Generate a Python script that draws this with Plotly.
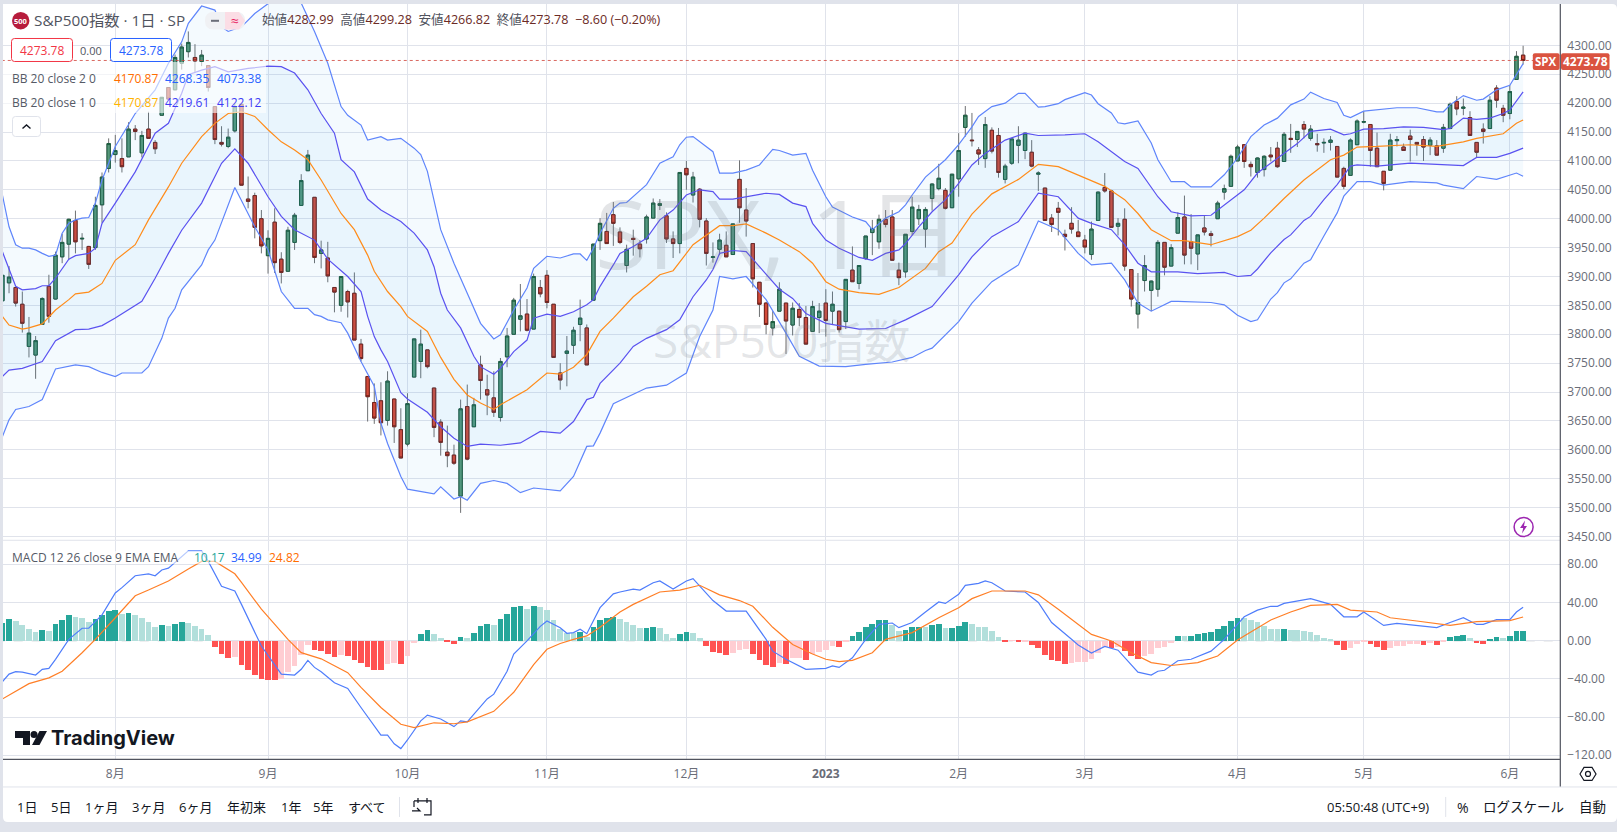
# S&P500 daily chart with bollinger bands and a MACD pane
import plotly.graph_objects as go

W, H = 1617, 832
FONT = "Open Sans, Noto Sans CJK JP"

## values
open_vals = [3858,3889,3881,3852,3779,3764,3817,3883,3861,3934,3956,3997,3965,3952,3950,4024,4087,4111,4104,4107,
    4155,4114,4155,4132,4179,4227,4223,4269,4289,4279,4272,4265,4194,4132,4125,4152,4198,4034,4040,4000,
    3936,3994,3930,3909,3959,4023,4083,4037,3940,3932,3881,3850,3874,3871,3783,3727,3682,3685,3651,3688,
    3635,3610,3726,3753,3773,3707,3648,3596,3591,3520,3675,3640,3747,3704,3690,3656,3761,3800,3826,3835,
    3809,3881,3902,3852,3733,3767,3781,3817,3811,3859,3962,3978,4007,3977,3919,3966,3956,3965,4001,4023,
    4005,3965,3957,4087,4041,4051,3996,3933,3947,3954,3938,4068,4015,3957,3890,3854,3811,3840,3854,3816,
    3843,3829,3805,3829,3854,3840,3840,3822,3911,3888,3931,3976,3960,3999,4003,3911,3908,3978,4000,3982,
    4035,4052,4049,4019,4069,4158,4136,4119,4104,4153,4144,4068,4096,4127,4118,4115,4077,4053,4001,4018,
    3973,3992,3977,3963,3938,3997,4054,4048,3987,3999,3912,3835,3893,3876,3878,3959,3918,3975,4003,3960,
    3939,3984,3974,4000,4046,4056,4100,4128,4094,4080,4085,4110,4122,4099,4139,4137,4163,4139,4130,4131,
    4132,4125,4087,4075,4128,4167,4163,4122,4082,4084,4135,4124,4143,4132,4137,4127,4126,4122,4156,4203,
    4191,4175,4132,4155,4156,4226,4191,4182,4241,4282.99]
high_vals = [3911,3918,3881,3874,3830,3797,3864,3903,3943,3974,4000,4014,3975,3953,4038,4080,4139,4145,4139,4167,
    4162,4152,4185,4136,4210,4227,4284,4303,4324,4302,4292,4265,4194,4160,4156,4200,4198,4073,4045,4015,
    3980,4018,3942,3986,4010,4077,4119,4037,3962,3960,3881,3900,3877,3907,3792,3727,3715,3717,3736,3688,
    3672,3698,3792,3808,3773,3707,3653,3642,3609,3687,3713,3690,3763,3730,3736,3759,3811,3863,3887,3861,
    3905,3894,3911,3852,3750,3797,3813,3860,3817,3956,4001,4010,4029,3985,3955,3981,3963,4007,4035,4034,
    4011,3978,4080,4100,4081,4053,4001,3959,3974,3978,3991,4101,4053,3957,3890,3856,3840,3890,3854,3855,
    3854,3849,3858,3854,3878,3874,3840,3895,3952,3919,3970,3998,4007,4015,4015,3924,3973,4038,4024,4020,
    4061,4095,4053,4077,4148,4195,4183,4124,4176,4158,4157,4095,4139,4160,4148,4136,4082,4053,4008,4029,
    3981,4020,3998,3972,3995,4047,4079,4050,4001,4018,3912,3906,3937,3893,3963,3959,3956,4011,4040,4008,
    3972,4005,3979,4031,4059,4111,4128,4128,4099,4106,4110,4124,4133,4150,4164,4151,4169,4162,4147,4139,
    4143,4125,4090,4139,4172,4186,4163,4149,4082,4147,4143,4130,4154,4132,4143,4141,4136,4164,4201,4212,
    4208,4186,4132,4165,4212,4231,4197,4231,4290,4299.28]
low_vals = [3858,3871,3848,3803,3760,3723,3817,3820,3860,3923,3929,3940,3946,3913,3946,3993,4080,4097,4080,4107,
    4136,4106,4139,4112,4179,4207,4223,4258,4279,4254,4264,4220,4129,4125,4122,4149,4058,4018,3966,3940,
    3905,3906,3888,3909,3946,4023,4083,3923,3914,3890,3838,3839,3829,3790,3753,3649,3645,3625,3642,3612,
    3586,3606,3726,3724,3741,3622,3590,3570,3574,3491,3582,3640,3687,3660,3657,3649,3743,3800,3805,3805,
    3809,3864,3845,3760,3704,3710,3766,3788,3747,3859,3946,3957,3953,3956,3907,3936,3933,3957,4001,4015,
    3958,3932,3940,4050,4028,3985,3919,3924,3937,3934,3938,3993,3969,3881,3830,3800,3798,3840,3766,3798,
    3814,3783,3805,3802,3796,3816,3803,3809,3891,3878,3929,3937,3948,3985,3928,3885,3898,3972,3989,3950,
    4014,4049,4016,4019,4038,4142,4125,4093,4088,4113,4071,4061,4093,4096,4103,4089,4048,3997,3977,3971,
    3945,3974,3969,3940,3929,3997,4045,3985,3971,3910,3848,3810,3874,3840,3865,3902,3918,3975,3921,3921,
    3911,3971,3952,4000,4033,4056,4100,4088,4073,4071,4073,4099,4088,4099,4114,4124,4139,4135,4116,4114,
    4118,4072,4051,4075,4128,4165,4090,4090,4049,4084,4125,4118,4099,4109,4100,4110,4110,4114,4155,4179,
    4179,4144,4106,4130,4156,4192,4167,4172,4241,4266.82]
close_vals = [3902,3899,3854,3819,3802,3789,3862,3831,3937,3959,3999,3960,3966,3921,4023,4072,4130,4118,4090,4155,
    4151,4144,4139,4121,4210,4207,4279,4297,4305,4273,4283,4227,4137,4129,4141,4194,4058,4030,3985,3953,
    3966,3924,3907,3980,4006,4066,4110,3933,3946,3901,3873,3900,3856,3790,3758,3692,3655,3647,3719,3640,
    3586,3680,3792,3783,3744,3639,3613,3590,3577,3671,3584,3678,3720,3695,3665,3753,3797,3859,3832,3807,
    3900,3870,3855,3760,3721,3771,3807,3828,3747,3956,3992,3957,3992,3959,3947,3964,3948,4003,4027,4026,
    3965,3957,4080,4076,4072,3999,3940,3934,3963,3934,3991,4019,3996,3896,3852,3817,3822,3878,3823,3845,
    3829,3783,3848,3840,3824,3852,3808,3895,3891,3919,3970,3983,3999,3990,3928,3898,3973,4020,4016,4016,
    4060,4070,4018,4077,4118,4179,4135,4112,4163,4117,4080,4091,4138,4136,4148,4091,4079,3997,3990,4011,
    3969,3982,3969,3951,3982,4046,4048,3985,3992,3918,3861,3855,3919,3892,3959,3916,3950,4002,3937,3949,
    3972,3977,3971,4027,4052,4108,4124,4099,4090,4105,4108,4107,4090,4146,4137,4151,4155,4155,4128,4132,
    4136,4072,4056,4136,4169,4168,4118,4090,4061,4136,4137,4118,4137,4129,4124,4136,4110,4158,4198,4190,
    4193,4144,4115,4151,4205,4205,4179,4220,4281,4273.78]

# bollinger lines, each with the bars it was read at
up2_idx = [0,1,2,3,4,5,6,7,8,9,10,11,12,13,14,15,17,20,23,25,27,28,30,32,33,34,36,38,40,42,44,45,47,49,51,52,54,55,57,58,60,
    62,63,64,66,68,70,72,74,75,77,79,80,82,84,86,87,88,89,90,92,93,94,97,99,101,102,103,104,107,108,110,112,114,116,117,
    119,121,122,124,125,128,130,131,133,135,136,137,139,141,142,144,146,147,149,151,153,154,156,157,159,160,163,164,165,
    167,168,169,171,173,174,176,178,179,182,184,186,188,190,192,194,196,197,199,201,202,203,205,208,210,213,216,217,218,
    220,222,223,225,227,228,229]
up2_vals = [4041,3986,3955,3949,3949,3946,3940,3935,3937,3975,3992,3998,4001,4002,4027,4067,4125,4182,4223,4269,4306,4338,4368,4361,4332,4324,4332,4355,4372,4387,4390,4373,4324,4269,4194,4179,4162,4136,4142,4136,4139,
    4122,4111,4082,3981,3923,3871,3819,3792,3799,3842,3880,3914,3935,3932,3939,3939,3928,3949,3975,4018,4027,4028,4059,4096,4107,4128,4141,4142,4116,4079,4079,4084,4093,4120,4118,
    4110,4113,4084,4038,4020,4003,3995,3981,4001,4012,4024,4041,4072,4093,4102,4128,4159,4177,4194,4200,4217,4217,4193,4194,4199,4206,4218,4214,4199,
    4183,4166,4164,4169,4131,4102,4064,4064,4055,4055,4076,4105,4142,4162,4174,4197,4207,4219,4208,4201,4179,4175,4186,4190,4192,4192,4185,4185,4197,
    4213,4205,4207,4223,4231,4249,4268.35]
up1_idx = [0,1,2,3,5,6,7,8,10,11,13,14,15,17,20,23,25,27,28,30,32,34,37,40,42,44,46,48,50,51,53,55,57,60,
    62,64,65,66,67,69,71,72,74,75,77,79,80,82,84,86,88,89,90,92,93,95,97,99,101,103,105,107,108,110,112,115,117,
    119,121,122,124,126,129,131,133,135,136,138,140,142,144,146,148,151,154,156,160,163,165,167,169,171,174,176,
    179,182,184,187,189,192,195,197,200,202,203,205,208,211,214,217,218,220,222,224,226,227,228,229]
up1_vals = [3943,3912,3883,3877,3879,3884,3884,3897,3930,3936,3940,3949,3992,4027,4081,4148,4165,4217,4249,4257,4263,4254,4260,4264,4263,4252,4223,4182,4148,4102,4081,4034,4015,3995,
    3975,3946,3917,3871,3842,3811,3762,3744,3731,3741,3770,3790,3828,3835,3831,3839,3851,3860,3883,3920,3940,3952,3966,3998,4015,4041,4050,4047,4034,4034,4038,4044,4042,
    4027,4021,3992,3963,3949,3933,3928,3940,3946,3957,3986,4012,4033,4061,4093,4113,4136,4148,4144,4145,4147,4133,4116,4099,4087,4038,4012,
    4005,4006,4024,4050,4079,4104,4130,4151,4155,4145,4147,4155,4156,4159,4158,4154,4156,4174,4172,4174,4182,4188,4203,4219.61]
mid_idx = [0,1,3,4,6,8,10,11,13,15,17,20,22,25,27,30,32,34,36,38,40,42,44,46,48,51,53,55,56,57,58,60,61,64,66,68,70,72,74,75,77,79,82,84,86,88,90,92,95,97,99,101,104,106,108,110,112,115,117,
    120,122,124,126,129,132,135,137,139,141,143,146,149,153,156,159,162,166,169,171,173,176,178,182,186,188,190,192,193,196,198,200,202,204,207,212,216,220,222,226,228,229]
mid_vals = [3831,3816,3809,3811,3818,3842,3860,3870,3873,3888,3928,3955,3998,4055,4096,4142,4165,4182,4185,4177,4154,4133,4119,4102,4067,4009,3981,3937,3909,3891,3874,3848,3831,3805,3760,3722,3695,3681,3670,3678,3691,3704,3733,3731,3743,3765,3805,3828,3865,3883,3903,3910,3955,3972,3988,3988,3991,3975,3963,
    3943,3923,3891,3878,3872,3869,3881,3897,3914,3943,3958,4008,4043,4068,4094,4090,4076,4056,4033,4009,3981,3962,3962,3955,3969,3980,4001,4024,4035,4067,4084,4102,4110,4124,4125,4128,4125,4133,4139,4147,4165,4170.87]
low1_idx = [0,1,3,6,8,11,13,15,17,19,21,23,25,27,30,33,35,37,40,42,44,47,49,52,54,55,56,57,58,60,61,64,66,68,70,72,75,78,80,81,84,86,88,89,90,93,95,97,100,102,104,106,107,108,110,112,114,117,
    119,121,124,129,133,136,140,144,146,149,153,156,159,162,164,167,169,171,173,177,180,184,186,188,189,191,193,194,196,197,199,201,203,204,207,212,216,220,222,225,227,229]
low1_vals = [3727,3738,3741,3753,3789,3808,3809,3815,3828,3843,3857,3897,3940,3980,4027,4096,4121,4096,4038,4004,3981,3963,3930,3900,3874,3831,3796,3773,3753,3699,3688,3665,3640,3620,3606,3610,3608,3612,3626,3632,3629,3649,3687,3691,3715,3750,3779,3793,3808,3825,3865,3894,3912,3940,3945,3943,3917,3878,
    3862,3836,3819,3809,3810,3825,3848,3903,3934,3969,3995,4044,4038,4001,3992,3981,3955,3923,3908,3908,3905,3907,3900,3902,3913,3941,3964,3972,3997,4004,4033,4059,4091,4093,4091,4096,4094,4092,4106,4106,4113,4122.12]
low2_idx = [0,1,2,4,6,8,11,13,15,17,18,21,22,24,25,26,27,29,30,31,32,35,38,40,42,44,46,47,48,49,51,52,54,56,57,58,60,61,65,66,68,69,70,72,74,76,78,80,82,84,86,88,89,90,92,97,100,103,105,107,108,110,112,115,118,120,
    123,127,130,134,137,139,140,144,146,149,153,156,159,162,164,167,169,171,173,176,177,182,184,186,188,189,191,192,193,194,196,197,199,201,202,204,206,208,212,216,217,220,222,225,228,229]
low2_vals = [3623,3652,3670,3675,3687,3740,3747,3744,3734,3727,3733,3733,3744,3793,3828,3845,3877,3905,3920,3946,3963,4054,3986,3946,3874,3845,3845,3834,3831,3825,3820,3802,3753,3710,3646,3611,3554,3532,3524,3536,3515,3519,3513,3542,3547,3542,3526,3534,3531,3529,3554,3606,3607,3629,3680,3707,3712,3733,3796,3842,3900,3896,3900,3860,3802,3762,
    3745,3744,3748,3752,3760,3772,3776,3822,3854,3891,3920,3996,3981,3940,3920,3923,3894,3854,3840,3857,3857,3855,3851,3833,3822,3825,3861,3872,3889,3896,3923,3929,3970,4010,4039,4064,4064,4058,4064,4062,4058,4052,4073,4068,4079,4073.38]

# macd pane
hist_vals = [18.8,22.3,20.2,16,11.9,9,10.8,10.4,17,21.3,26.5,25,24,20,23,26.5,30.7,31.8,27.6,28.6,
    26.9,23.4,19.2,14,16,15,18,19.2,19,15,12,5.6,-6.6,-14.3,-18.5,-17.5,-25.8,-31,-36.3,-40.5,
    -40.9,-41.5,-40.5,-33,-26,-15.4,-4.9,-10,-11,-14.3,-17.5,-15.4,-16.4,-20.6,-23.7,-28,-31,-31.2,-24.8,-23.7,
    -24.8,-16.4,-2.8,6.6,10.8,6.6,2.4,-1.7,-3.8,3.5,2.4,7.7,15,17,16.8,22.3,27.6,34.9,36,32.8,
    36,34.9,31.8,21.3,11.9,7.7,7.7,8.7,3.5,14,21.3,23.4,24.4,22.3,19.2,16,13,13.2,14,13,
    6.6,2.4,6.6,8.7,8.5,2.4,-5.9,-12.2,-13.3,-15.4,-13.3,-10,-9,-14.3,-20.6,-25.8,-28,-23.7,-24,-18.5,
    -18.3,-20.6,-14.3,-12.2,-10,-5.9,-6.1,-0.7,4.5,8.7,14,18,21.3,21.5,16,9.8,10.8,14,14.2,14,
    16,17,13,13.2,15,19.2,18,14,14,9.8,3.5,-0.5,-0.3,-0.6,-0.4,-4.9,-8,-15.4,-20.6,-21.6,
    -24,-23.7,-22.7,-22.7,-19.5,-13.3,-7,-8,-7,-11,-16.4,-19.5,-16.4,-14.3,-8,-7,-2.8,4.5,4.5,4.7,
    6.6,7.7,8.7,11.9,15,20.2,23.4,23.4,21.3,19.2,15,11.9,11.9,12.1,10.8,10.8,9.8,8.7,5.6,2.4,
    1.4,-4.9,-10,-8,-3.8,-1.7,-3.8,-7,-10,-8,-5.9,-5.9,-3.8,-3.8,-4,-2.8,-4.9,-1.7,3.5,4.5,
    5.6,2.4,-2.8,-3,1.4,3.5,2.4,4.5,9.8,10.17]
macd_idx = [0,1,2,3,5,6,7,8,10,12,13,15,17,18,20,22,23,24,25,27,28,30,31,33,35,36,39,42,44,45,46,47,48,50,52,54,57,58,59,60,61,63,64,66,68,69,70,73,74,76,77,79,
    81,82,84,85,86,87,88,90,92,93,95,96,98,99,101,103,104,107,109,112,115,116,118,121,124,125,126,128,130,132,134,135,137,139,141,142,144,145,147,148,149,151,154,156,158,
    161,162,164,166,168,171,173,174,175,177,179,182,184,187,189,191,192,193,197,200,202,204,205,208,210,216,218,220,222,223,225,227,228,229]
macd_vals = [-43,-35,-32.5,-33,-36,-30,-29,-19.5,1.4,13,13,27,50,55.5,68,70,68,74,76,88.6,94,94,83,57,52,38,-5.6,-35,-36,-30,-20.6,-28,-32.5,-44,-50,-70,-99,-99,-108,-113,-104,-84,-78,-82,-90,-84,-85,-61,-56,-32,-14,-0.3,
    15,20.6,13.6,7.7,8.4,12,7.3,34.6,49,51,54,53,60.7,62.5,54,62.5,65,42,31,31,1.4,-11,-19.5,-30,-29,-26.5,-28,-18,1.4,17,18.5,13.6,19,30,40.5,39,48.5,58,60,62.5,60.7,52,51,40,19,
    1.4,-4.5,-13,-6,-10,-33,-36,-32,-31,-21,-19.5,-11,1.4,25,32,36,36,39,44,38,25,25,30,16,18,13.6,19,24,17,17,22,22,30,34.99]
signal_idx = [0,2,4,7,9,12,14,17,20,22,25,28,30,32,35,36,39,43,45,48,52,54,57,60,62,65,68,70,74,77,80,82,84,86,88,90,93,95,99,102,105,108,111,113,114,116,119,122,124,126,128,131,133,137,141,144,146,149,154,156,
    159,164,167,170,173,176,180,183,186,191,194,197,201,203,207,209,213,218,222,227,229]
signal_vals = [-61,-53,-45,-39,-32,-12.6,1.4,24,47,53,62.5,75,83,83,70,61,33,1.4,-12.6,-19,-33.5,-49,-70,-87.6,-91,-86,-87,-85,-74,-54,-25,-9,-3,1.4,5,14,30,38,51,53,58,48,42,36,29,14,-4,-14,-19.5,-22,-20.6,-12.6,1.4,8.4,24,34.5,44,52,52,48,
    33,6.6,-0.3,-12.6,-23,-26,-23,-16,0.7,21.6,30,37,38,32,30,24,20.6,16,20,21,24.82]

# axis labels
month_idx = [17,40,61,82,103,124,144,163,186,205,227]
month_labels = ["8月","9月","10月","11月","12月","<b>2023</b>","2月","3月","4月","5月","6月"]
price_ticks = list(range(3450, 4301, 50))
macd_ticks = [-120,-80,-40,0,40,80]
range_buttons = [("1日",17),("5日",50.5),("1ヶ月",85),("3ヶ月",131.5),("6ヶ月",178.5),("年初来",226.5),("1年",280.5),("5年",313),("すべて",348)]

n_bars = len(close_vals)
bars = list(range(n_bars))
last_close = close_vals[-1]

def X(px):
    return px / W

# the photographed page came out a little squashed against the reference, so stretch y slightly
def Y(py):
    return 1 - py * 1.006 / H

def rrect(x0, y0, x1, y1, r):
    return (f"M{X(x0+r)},{Y(y0)} L{X(x1-r)},{Y(y0)} Q{X(x1)},{Y(y0)} {X(x1)},{Y(y0+r)} "
            f"L{X(x1)},{Y(y1-r)} Q{X(x1)},{Y(y1)} {X(x1-r)},{Y(y1)} L{X(x0+r)},{Y(y1)} "
            f"Q{X(x0)},{Y(y1)} {X(x0)},{Y(y1-r)} L{X(x0)},{Y(y0+r)} Q{X(x0)},{Y(y0)} {X(x0+r)},{Y(y0)} Z")

def poly(points, close=True):
    s = "M" + " L".join(f"{X(a)},{Y(b)}" for a, b in points)
    return s + " Z" if close else s

shapes = []
def path(d, line=None, fill="rgba(0,0,0,0)", width=1, layer="above"):
    shapes.append(dict(type="path", xref="paper", yref="paper", path=d, fillcolor=fill,
                       line=dict(color=line or "rgba(0,0,0,0)", width=width), layer=layer))

def circle(cx, cy, r, line=None, fill="rgba(0,0,0,0)", width=1):
    shapes.append(dict(type="circle", xref="paper", yref="paper", x0=X(cx-r), x1=X(cx+r), y0=Y(cy+r), y1=Y(cy-r),
                       fillcolor=fill, line=dict(color=line or "rgba(0,0,0,0)", width=width)))

annots = []
def label(x, y, text, color="#555a66", size=12, anchor="left", family=FONT):
    annots.append(dict(xref="paper", yref="paper", x=X(x), y=Y(y), text=text, showarrow=False, xanchor=anchor,
                       yanchor="middle", font=dict(color=color, size=size, family=family), borderpad=0, borderwidth=0))

fig = go.Figure()

## bollinger fills and lines
fig.add_trace(go.Scatter(x=up2_idx + low2_idx[::-1], y=up2_vals + low2_vals[::-1], fill="toself", mode="none",
                         fillcolor="rgba(33,150,243,0.05)", hoverinfo="skip"))
fig.add_trace(go.Scatter(x=up1_idx + low1_idx[::-1], y=up1_vals + low1_vals[::-1], fill="toself", mode="none",
                         fillcolor="rgba(33,150,243,0.05)", hoverinfo="skip"))
for xs, ys, col in [(up2_idx, up2_vals, "#5f85fb"), (low2_idx, low2_vals, "#5f85fb"),
                    (up1_idx, up1_vals, "#5a52f0"), (low1_idx, low1_vals, "#5a52f0"),
                    (mid_idx, mid_vals, "#ff8c1a")]:
    fig.add_trace(go.Scatter(x=xs, y=ys, mode="lines", line=dict(color=col, width=1.2), hoverinfo="skip"))

## candles: one trace for the grey wicks, one for the bodies on top
wick = dict(line=dict(color="#6e7072", width=1), fillcolor="#6e7072")
fig.add_trace(go.Candlestick(x=bars, open=open_vals, high=high_vals, low=low_vals, close=close_vals,
                             increasing=wick, decreasing=wick, hoverinfo="skip"))
fig.add_trace(go.Candlestick(x=bars, open=open_vals, close=close_vals,
                             high=[max(a, b) for a, b in zip(open_vals, close_vals)],
                             low=[min(a, b) for a, b in zip(open_vals, close_vals)],
                             increasing=dict(line=dict(color="#1c5c3e", width=1), fillcolor="#56977a"),
                             decreasing=dict(line=dict(color="#74211a", width=1), fillcolor="#d24a39"),
                             hoverinfo="skip"))

## macd pane
hist_cols = []
for i, v in enumerate(hist_vals):
    prev = hist_vals[i - 1] if i > 0 else 0
    if v >= 0:
        hist_cols.append("#26a69a" if v > prev else "#b2dfdb")
    else:
        hist_cols.append("#ff5252" if v < prev else "#ffcdd2")
fig.add_trace(go.Bar(x=bars, y=hist_vals, marker=dict(color=hist_cols, line=dict(width=0)), width=0.86,
                     xaxis="x2", yaxis="y2", hoverinfo="skip"))
fig.add_trace(go.Scatter(x=macd_idx, y=macd_vals, mode="lines", line=dict(color="#4f7dfb", width=1.2),
                         xaxis="x2", yaxis="y2", hoverinfo="skip"))
fig.add_trace(go.Scatter(x=signal_idx, y=signal_vals, mode="lines", line=dict(color="#ff7f27", width=1.2),
                         xaxis="x2", yaxis="y2", hoverinfo="skip"))

## page furniture
path(rrect(3, 4, 1617, 822, 5), fill="#ffffff", layer="below")
# zero line of the macd and the last price line
shapes.append(dict(type="line", xref="x2", yref="y2", x0=-1, x1=234.6, y0=0, y1=0, layer="below",
                   line=dict(color="#9598a1", width=1, dash="dash")))
shapes.append(dict(type="line", xref="x", yref="y", x0=-1, x1=234.6, y0=last_close, y1=last_close,
                   line=dict(color="rgba(208,68,58,0.8)", width=1, dash="dot")))
# pane borders
path(poly([(3, 540.3), (1560.3, 540.3)], False), line="#e0e3eb")
path(poly([(3, 759.4), (1560.3, 759.4)], False), line="#50535e", width=1.2)
path(poly([(1560.3, 4), (1560.3, 787)], False), line="#50535e", width=1.2)
path(poly([(3, 787), (1617, 787)], False), line="#e0e3eb")
# translucent legend backings
path(poly([(3, 62), (266, 62), (266, 113), (3, 113)]), fill="rgba(255,255,255,0.6)")
path(poly([(3, 551), (302, 551), (302, 564), (3, 564)]), fill="rgba(255,255,255,0.6)")

# watermark
label(778, 232, "SPX, 1日", "rgba(120,123,134,0.2)", 96, "center")
label(781, 340, "S&P500指数", "rgba(120,123,134,0.2)", 46, "center")

# header
circle(20.7, 20.7, 8.7, fill="#b71c3c")
label(20.7, 20.9, "<b>500</b>", "#ffffff", 7.5, "center")
label(34, 20, "S&P500指数 · 1日 · SP", "#50535e", 15.3)
path(rrect(205, 12, 245, 29.5, 8.5), fill="#f0f1f4")
path(poly([(225, 12), (239, 12), (245, 20.7), (239, 29.5), (225, 29.5)]), fill="#fbdde5")
path(poly([(211, 20.8), (219, 20.8)], False), line="#6a6d78", width=2)
label(234.5, 20.5, "≈", "#e91e63", 14, "center")
val = '<span style="color:#6b2a25">%s</span>'
label(261.5, 20, "始値" + val % "4282.99" + "  高値" + val % "4299.28" + "  安値" + val % "4266.82" +
      "  終値" + val % "4273.78" + "  " + val % "−8.60 (−0.20%)", "#50535e", 12.6)

# price boxes
path(rrect(11.5, 38.5, 72.5, 61.5, 3), line="#f23645", fill="#ffffff", width=1)
label(42, 50.3, "4273.78", "#f23645", 12, "center")
label(91, 50.3, "0.00", "#50535e", 11, "center")
path(rrect(110.5, 38.5, 171.5, 61.5, 3), line="#2962ff", fill="#ffffff", width=1)
label(141, 50.3, "4273.78", "#2962ff", 12, "center")

# bollinger legends
label(12, 78.3, "BB 20 close 2 0")
label(114, 78.3, "4170.87", "#ff6d00")
label(165.3, 78.3, "4268.35", "#2962ff")
label(217, 78.3, "4073.38", "#2962ff")
label(12, 102.7, "BB 20 close 1 0")
label(114, 102.7, "4170.87", "#ffb300")
label(165.3, 102.7, "4219.61", "#3f3cf5")
label(217, 102.7, "4122.12", "#3f3cf5")
path(rrect(12.5, 116.5, 40.5, 136.5, 3), line="#e0e3eb", fill="#ffffff")
path(poly([(22.5, 128.5), (26.5, 125), (30.5, 128.5)], False), line="#131722", width=1.4)

# macd legend
label(12, 557.3, "MACD 12 26 close 9 EMA EMA")
label(193.5, 557.3, "10.17", "#26a69a")
label(231.4, 557.3, "34.99", "#2962ff")
label(269.3, 557.3, "24.82", "#ff6d00")

# TradingView mark
path(poly([(15, 731), (30, 731), (30, 745), (23, 745), (23, 738), (15, 738)]), fill="#131722")
circle(34, 734.5, 3.5, fill="#131722")
path(poly([(39.5, 731), (47, 731), (39.5, 745), (32, 745)]), fill="#131722")
label(51, 738.5, "<b>TradingView</b>", "#131722", 20, family="Inter, Lato")

# last price tags
path(rrect(1532.8, 53.3, 1559.6, 70, 2), fill="#da5340")
label(1546.2, 61.8, "<b>SPX</b>", "#ffffff", 11.5, "center")
path(rrect(1561, 53.3, 1609.5, 70, 2), fill="#da5340")
label(1585.2, 61.8, "<b>4273.78</b>", "#ffffff", 12, "center")

# purple bolt
circle(1523.6, 527, 9.5, line="#9c27b0", width=1.5)
path(poly([(1525, 520.5), (1520, 528), (1523.2, 528), (1522, 533.5), (1527, 526), (1524, 526)]), fill="#9c27b0")

# settings gear
path(poly([(1580, 774), (1584, 767.5), (1592, 767.5), (1596, 774), (1592, 780.5), (1584, 780.5)]), line="#131722", width=1.2)
circle(1588, 774, 2.5, line="#131722", width=1.2)

# bottom toolbar
for txt, xp in range_buttons:
    label(xp, 807.3, txt, "#131722", 13)
path(poly([(399.5, 797), (399.5, 817)], False), line="#e0e3eb")
path(poly([(414, 801), (431, 801), (431, 815), (424, 815)], False), line="#131722", width=1.2)
path(poly([(414, 801), (414, 807)], False), line="#131722", width=1.2)
path(poly([(418, 798), (418, 803)], False), line="#131722", width=1.2)
path(poly([(427, 798), (427, 803)], False), line="#131722", width=1.2)
path(poly([(412, 811), (420, 811), (417, 808)], False), line="#131722", width=1.2)
label(1326.7, 807.3, "05:50:48 (UTC+9)", "#131722", 13)
path(poly([(1445.7, 797), (1445.7, 817)], False), line="#e0e3eb")
label(1457, 807.3, "%", "#131722", 14)
label(1483, 807.3, "ログスケール", "#131722", 13.5)
label(1579, 807.3, "自動", "#131722", 13.5)

x_common = dict(range=[0.09, 234.6], domain=[X(3), X(1560.3)], showgrid=True, gridcolor="#e0e3eb", gridwidth=1,
                zeroline=False, showline=False, tickmode="array", tickvals=month_idx, ticktext=month_labels,
                ticks="", fixedrange=True)
y_common = dict(side="right", showgrid=True, gridcolor="#e0e3eb", gridwidth=1, zeroline=False, showline=False,
                tickformat=".2f", tickfont=dict(size=12, color="#6a6d78", family=FONT), ticks="", ticklabelstandoff=6,
                tickmode="array", fixedrange=True)

fig.update_layout(
    width=W, height=H, margin=dict(l=0, r=0, t=0, b=0), showlegend=False, autosize=False,
    paper_bgcolor="#e0e3eb", plot_bgcolor="#ffffff", font=dict(family=FONT),
    boxmode="overlay", boxgap=0.28, bargap=0,
    xaxis=dict(x_common, anchor="y", rangeslider=dict(visible=False), showticklabels=False),
    xaxis2=dict(x_common, anchor="y2", matches="x", showticklabels=True, ticklabelstandoff=6,
                tickfont=dict(size=12, color="#6a6d78", family=FONT)),
    yaxis=dict(y_common, anchor="x", domain=[Y(540), Y(4)], range=[3444.1, 4371.5], tickvals=price_ticks),
    yaxis2=dict(y_common, anchor="x2", domain=[Y(759.3), Y(541)], range=[-124.2, 104.4], tickvals=macd_ticks),
    shapes=shapes, annotations=annots,
)

fig.write_html("out.html", config=dict(displayModeBar=False),
               post_script="document.body.style.margin='0';document.body.style.overflow='hidden';")
